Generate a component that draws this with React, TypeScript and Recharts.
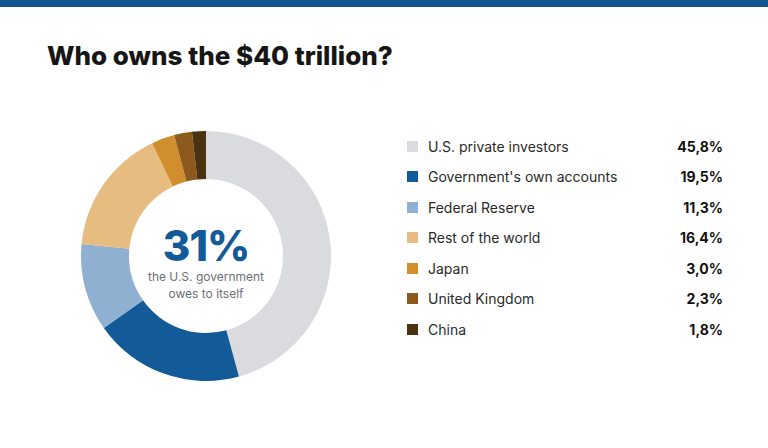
import React from "react";
import { PieChart, Pie, Cell } from "recharts";

const categories = [
  "U.S. private investors",
  "Government's own accounts",
  "Federal Reserve",
  "Rest of the world",
  "Japan",
  "United Kingdom",
  "China",
];
const shares = [45.8, 19.5, 11.3, 16.4, 3.0, 2.3, 1.8];
const colors = ["#d9dbdf", "#135a98", "#8fb0d1", "#e7bc80", "#d08f2c", "#8b5a1c", "#4a3310"];
const shareLabels = ["45,8%", "19,5%", "11,3%", "16,4%", "3,0%", "2,3%", "1,8%"];

const data = categories.map((name, i) => ({ name, value: shares[i] }));

const FONT = "Inter, 'Noto Sans', sans-serif";

function LegendList() {
  return (
    <div style={{ position: "absolute", left: 407, top: 131, width: 316, fontFamily: FONT }}>
      {categories.map((name, i) => (
        <div key={name} style={{ display: "flex", alignItems: "center", height: 30.5 }}>
          <span
            style={{
              width: 11,
              height: 11,
              background: colors[i],
              marginRight: 10,
              flex: "none",
            }}
          />
          <span style={{ fontSize: 14, color: "#2a2a2a", flex: 1 }}>{name}</span>
          <span style={{ fontSize: 14, fontWeight: 700, color: "#111" }}>{shareLabels[i]}</span>
        </div>
      ))}
    </div>
  );
}

export default function App() {
  return (
    <div
      style={{
        position: "absolute",
        left: 0,
        top: 0,
        width: 768,
        height: 448,
        background: "#fff",
        overflow: "hidden",
      }}
    >
      <div style={{ position: "absolute", left: 0, top: 0, width: 768, height: 7, background: "#135694" }} />
      <div
        style={{
          position: "absolute",
          left: 47,
          top: 40,
          fontFamily: FONT,
          fontSize: 26,
          fontWeight: 800,
          color: "#161616",
        }}
      >
        Who owns the $40 trillion?
      </div>
      <PieChart
        width={768}
        height={448}
        margin={{ top: 0, right: 0, bottom: 0, left: 0 }}
        style={{ position: "absolute", left: 0, top: 0 }}
      >
        <Pie
          data={data}
          dataKey="value"
          nameKey="name"
          cx={206}
          cy={256}
          innerRadius={77}
          outerRadius={125}
          startAngle={90}
          endAngle={-270}
          stroke="none"
          isAnimationActive={false}
        >
          {data.map((d, i) => (
            <Cell key={d.name} fill={colors[i]} />
          ))}
        </Pie>
      </PieChart>
      <div
        style={{
          position: "absolute",
          left: 206 - 70,
          top: 224,
          width: 140,
          textAlign: "center",
          fontFamily: FONT,
        }}
      >
        <div style={{ fontSize: 42, fontWeight: 800, color: "#135a98", lineHeight: "44px", letterSpacing: -1 }}>
          31%
        </div>
        <div style={{ fontSize: 12, color: "#6b6f76", lineHeight: "17px" }}>the U.S. government</div>
        <div style={{ fontSize: 12, color: "#6b6f76", lineHeight: "17px" }}>owes to itself</div>
      </div>
      <LegendList />
    </div>
  );
}
